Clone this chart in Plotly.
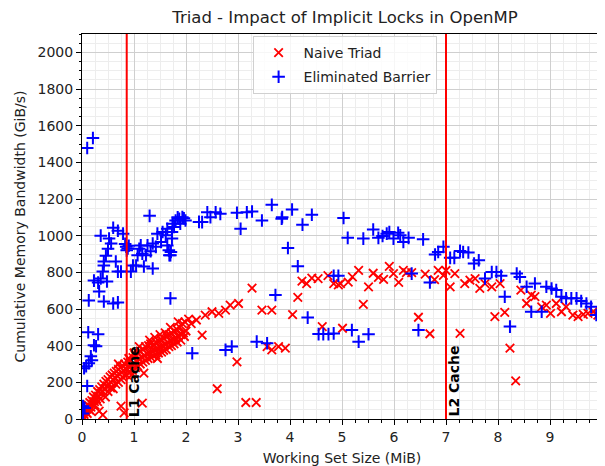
import plotly.graph_objects as go

# ---------------- data ----------------
naive_x = [0.02, 0.04, 0.05, 0.07, 0.08, 0.1, 0.12, 0.14, 0.15, 0.17, 0.19, 0.2, 0.22, 0.24, 0.26, 0.28,
           0.3, 0.32, 0.34, 0.36, 0.38, 0.4, 0.42, 0.44, 0.46, 0.48, 0.5, 0.52, 0.54, 0.56, 0.58, 0.6,
           0.62, 0.64, 0.66, 0.68, 0.7, 0.72, 0.74, 0.76, 0.78, 0.8, 0.82, 0.84, 0.88, 0.9, 0.93, 0.95,
           0.98, 1.0, 1.02, 1.05, 1.08, 1.1, 1.12, 1.15, 1.18, 1.2, 1.22, 1.25, 1.28, 1.3, 1.32, 1.35,
           1.38, 1.4, 1.42, 1.45, 1.48, 1.5, 1.52, 1.55, 1.58, 1.6, 1.62, 1.65, 1.68, 1.7, 1.72, 1.75,
           1.78, 1.8, 1.82, 1.85, 1.88, 1.9, 1.93, 1.95, 1.98, 2.0, 2.05,
           0.1, 0.18, 0.25, 0.3, 0.35, 0.45, 0.5, 0.55, 0.6, 0.65, 0.7, 0.75, 0.78, 0.86, 0.92, 0.97,
           1.03, 1.07, 1.12, 1.17, 1.22, 1.27, 1.33, 1.37, 1.42, 1.47, 1.53, 1.57, 1.62, 1.67, 1.72,
           1.77, 1.83, 1.9, 1.97, 1.0, 1.1, 1.3, 1.5, 1.7, 1.85, 1.4, 0.9, 0.7, 1.6,
           0.33, 0.4, 0.75, 0.81, 1.16, 1.19, 0.95, 1.45,
           2.1, 2.2, 2.37, 2.5, 2.63, 2.76, 2.85, 3.01, 2.31, 3.27, 3.46, 3.65, 2.98, 2.6, 3.15, 3.35,
           3.56, 3.65, 3.78, 3.91, 4.05, 4.15, 4.23, 4.32, 4.42, 4.54, 4.62, 4.73, 4.84, 4.93, 4.97,
           5.01, 5.12, 5.2, 5.32, 5.41, 5.51, 5.6, 5.7, 5.8, 5.91, 5.99, 6.09, 6.18, 6.24, 6.34, 6.47,
           6.6, 6.69, 6.78, 6.85, 6.95, 7.0, 7.08, 7.17, 7.27, 7.36, 7.46, 7.56, 7.65, 7.75, 7.88, 7.94,
           8.04, 8.13, 8.23, 8.34, 8.44, 8.55, 8.64, 8.71, 8.84, 8.93, 9.01, 9.12, 9.22, 9.31, 9.44,
           9.54, 9.64, 9.73, 9.83, 9.92, 9.99]
naive_y = [10, 25, 5, 40, 60, 30, 75, 50, 90, 65, 100, 80, 120, 95, 130, 110,
           150, 125, 160, 140, 175, 150, 190, 165, 205, 180, 215, 190, 230, 200, 240, 215,
           250, 225, 260, 235, 270, 245, 280, 255, 290, 265, 300, 275, 310, 285, 320, 290,
           335, 300, 350, 315, 360, 325, 370, 335, 380, 345, 395, 355, 400, 360, 410, 370,
           405, 375, 420, 385, 425, 390, 435, 395, 440, 405, 455, 415, 460, 425, 470, 430,
           480, 440, 490, 450, 500, 460, 520, 470, 530, 480, 545,
           55, 40, 75, 95, 110, 120, 150, 170, 165, 190, 200, 215, 230, 240, 260, 265,
           280, 290, 300, 310, 320, 330, 335, 345, 350, 360, 365, 375, 380, 395, 400,
           410, 420, 430, 450, 360, 395, 430, 460, 500, 530, 445, 330, 300, 470,
           43, 22, 70, 33, 87, 250, 240, 330,
           520, 540, 567, 585, 576, 594, 621, 630, 458, 714, 594, 594, 312, 165, 90, 90,
           395, 377, 395, 386, 569, 664, 752, 739, 768, 766, 504, 782, 739, 732, 739,
           495, 746, 775, 811, 625, 721, 795, 772, 762, 832, 793, 745, 811, 799, 799, 555,
           790, 465, 760, 811, 784, 810, 721, 793, 467, 739, 757, 766, 712, 739, 721, 558,
           739, 581, 386, 208, 703, 630, 676, 667, 612, 621, 576, 630, 585, 612, 567,
           558, 571, 576, 585, 567, 571]

barrier_x = [0.02, 0.05, 0.02, 0.1, 0.04, 0.08, 0.13, 0.17, 0.19, 0.23, 0.27, 0.12, 0.31, 0.13, 0.33,
             0.42, 0.6, 0.69, 0.1, 0.21,
             0.23, 0.31, 0.36, 0.48, 0.4, 0.42, 0.42, 0.46, 0.5, 0.56, 0.52, 0.36, 0.6, 0.69, 0.79,
             0.65, 0.69, 0.75,
             0.85, 0.83, 0.88, 0.9, 0.86,
             0.98, 1.04, 1.19, 1.36, 0.94,
             1.1, 1.16, 1.23, 1.32, 1.42, 1.52, 1.61, 1.64, 1.71, 1.68, 1.45, 1.55, 1.64, 1.74, 1.8,
             1.87, 1.13, 1.07, 1.26, 1.36, 1.3,
             1.93, 1.99, 1.89, 1.77, 1.73, 1.73, 1.67, 1.7, 1.84, 1.96,
             2.25, 2.31, 2.41, 2.47, 2.57, 2.66, 2.98, 3.17, 3.27, 3.05, 3.46, 3.65, 3.84,
             1.7, 3.72, 2.12, 2.76, 2.88, 3.36, 3.56,
             3.85, 4.04, 4.24, 4.42, 3.96, 4.15, 5.03, 5.11, 5.41, 5.6, 5.7, 5.78, 5.86, 5.91, 5.99,
             6.08, 6.12, 6.18, 6.28, 6.56,
             4.93, 4.84, 6.34, 6.69, 4.34,
             4.55, 4.64, 4.74, 4.84, 5.19, 5.32, 5.51, 6.47,
             6.79, 6.85, 6.95, 7.08, 7.16, 7.27, 7.33, 7.43, 7.54, 7.63, 7.75, 7.88, 7.97, 8.06, 8.13,
             8.23, 8.36, 8.42, 8.55, 8.71, 8.64, 8.84, 8.93, 9.03, 9.12, 9.22, 9.31, 9.41, 9.51, 9.6,
             9.7, 9.79, 9.89, 9.99]
barrier_y = [30, 60, 70, 180, 277, 288, 304, 342, 321, 402, 397, 473, 462, 647, 696,
             641, 630, 636, 1478, 1533,
             755, 744, 766, 750, 804, 837, 859, 891, 929, 957, 984, 1000, 1043, 1027, 1011,
             859, 804, 804,
             940, 955, 930, 945, 920,
             837, 837, 832, 821, 804,
             929, 902, 893, 915, 939, 966, 1002, 947, 911, 893, 1011, 1020, 1038, 1065, 1083,
             1092, 947, 893, 947, 957, 1108,
             1101, 1083, 1065, 1047, 1020, 984, 920, 893, 1100, 1095,
             1075, 1074, 1128, 1101, 1128, 1119, 1125, 1128, 1132, 1038, 1083, 1168, 1092,
             658, 676, 359, 377, 395, 422, 413,
             1101, 1143, 1060, 1114, 933, 833, 1096, 988, 984, 1034, 988, 998, 1011, 1020, 984,
             1016, 1002, 966, 988, 980,
             781, 781, 793, 745, 553,
             463, 463, 463, 467, 485, 422, 462, 485,
             897, 911, 939, 879, 879, 917, 911, 908, 848, 866, 766, 802, 802, 781, 667,
             504, 793, 775, 721, 739, 585, 585, 721, 712, 703, 667, 658, 658, 658, 643,
             630, 612, 567, 558]

cache_x = [0.86, 7.0]
cache_labels = ["L1 Cache", "L2 Cache"]
x_ticks = [0, 1, 2, 3, 4, 5, 6, 7, 8, 9]
y_ticks = [0, 200, 400, 600, 800, 1000, 1200, 1400, 1600, 1800, 2000]

FONT = "DejaVu Sans"

fig = go.Figure()
fig.add_trace(go.Scatter(
    x=naive_x, y=naive_y, mode="markers", name="Naive Triad",
    legendgroup="a",
    marker=dict(symbol="x-thin", size=8.5, color="#ff0000",
                line=dict(color="#ff0000", width=1.8)),
))
fig.add_trace(go.Scatter(
    x=barrier_x, y=barrier_y, mode="markers", name="Eliminated Barrier",
    legendgroup="b",
    marker=dict(symbol="cross-thin", size=9, color="#0000ff",
                line=dict(color="#0000ff", width=2)),
))

for cx, lab in zip(cache_x, cache_labels):
    fig.add_shape(type="line", x0=cx, x1=cx, y0=0, y1=1, xref="x", yref="paper",
                  line=dict(color="#ff0000", width=2), layer="above")
    fig.add_annotation(x=cx, y=0, xref="x", yref="y", text="<b>" + lab + "</b>",
                       textangle=-90, showarrow=False, xanchor="left", yanchor="bottom",
                       xshift=-3, font=dict(family=FONT, size=14, color="black"))

fig.update_layout(
    width=597, height=458,
    margin=dict(l=74, r=2, t=26, b=45),
    paper_bgcolor="white", plot_bgcolor="white",
    font=dict(family=FONT, size=14, color="#222222"),
    title=dict(text="Triad - Impact of Implicit Locks in OpenMP", x=0.5645, xanchor="center",
               y=0.98, yanchor="middle", font=dict(family=FONT, size=16.5, color="#222222")),
    showlegend=True,
    legend=dict(x=0.505, xanchor="center", y=0.995, yanchor="top",
                bgcolor="rgba(255,255,255,0.8)", bordercolor="#d0d0d0", borderwidth=1,
                itemwidth=40,
                font=dict(family=FONT, size=14, color="#222222"), tracegroupgap=3),
)
fig.update_xaxes(
    range=[0, 10.0], tickvals=x_ticks, showline=True, mirror=True, linecolor="black",
    linewidth=1, ticks="outside", ticklen=5, tickcolor="black", zeroline=False,
    showgrid=True, gridcolor="#cfcfcf", gridwidth=1,
    minor=dict(dtick=0.25, ticks="outside", ticklen=2.5, tickcolor="black",
               showgrid=True, gridcolor="#ededed", gridwidth=1),
    title=dict(text="Working Set Size (MiB)", standoff=9, font=dict(family=FONT, size=14)),
)
fig.update_yaxes(
    range=[0, 2100], tickvals=y_ticks, showline=True, mirror=True, linecolor="black",
    linewidth=1, ticks="outside", ticklen=5, tickcolor="black", zeroline=False,
    showgrid=True, gridcolor="#cfcfcf", gridwidth=1,
    minor=dict(dtick=50, ticks="outside", ticklen=2.5, tickcolor="black",
               showgrid=True, gridcolor="#ededed", gridwidth=1),
    title=dict(text="Cumulative Memory Bandwidth (GiB/s)", standoff=8, font=dict(family=FONT, size=14)),
)

fig.write_html("out.html")
